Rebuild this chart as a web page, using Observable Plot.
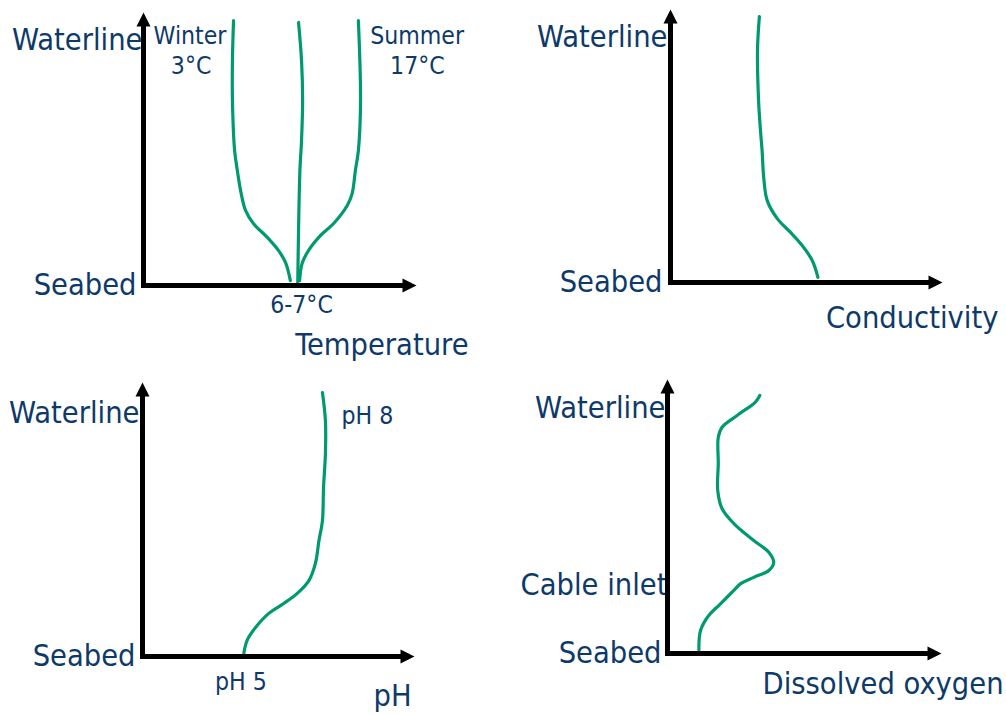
<!DOCTYPE html>
<html>
<head>
<meta charset="utf-8">
<script src="https://cdn.jsdelivr.net/npm/d3@7"></script>
<script src="https://cdn.jsdelivr.net/npm/@observablehq/plot@0.6"></script>
<style>
html, body { margin: 0; padding: 0; background: #fff; }
#wrap { position: relative; width: 1006px; height: 715px; overflow: hidden; }
#wrap svg { position: absolute; overflow: visible; }
#wrap svg text { font-stretch: condensed; }
</style>
</head>
<body>
<div id="wrap"></div>
<script>
// ---- Data (relative units: value = % of x-axis length, depth = % of height above seabed) ----
const winterValue = [33.1, 32.7, 32.7, 33.5, 34.5, 35.7, 37.5, 40.4, 45.6, 49.6, 52.2, 54.0];
const winterDepth = [97.4, 82.7, 68.0, 49.6, 42.3, 34.9, 27.6, 22.8, 17.6, 12.9, 8.5, 1.8];
const middleValue = [57.0, 58.1, 58.5, 58.1, 57.5, 57.0, 56.7];
const middleDepth = [96.7, 82.7, 68.0, 53.3, 42.3, 20.2, 0.0];
const summerValue = [79.0, 79.8, 79.0, 77.9, 76.7, 74.9, 69.9, 65.1, 60.7, 58.3, 57.4];
const summerDepth = [97.4, 68.0, 49.6, 42.3, 33.8, 29.4, 22.8, 18.4, 12.9, 8.1, 1.8];

const condValue = [32.8, 32.1, 32.5, 33.2, 33.8, 34.4, 35.7, 39.4, 44.3, 48.6, 52.3, 54.4];
const condDepth = [97.8, 85.3, 66.9, 55.9, 48.5, 38.6, 30.1, 23.5, 18.4, 13.6, 8.1, 1.9];

const phValue = [66.4, 67.5, 67.5, 66.8, 66.4, 65.1, 63.8, 61.4, 57.1, 52.1, 46.6, 41.7, 38.6, 37.4];
const phDepth = [96.7, 86.4, 74.4, 61.9, 49.8, 42.4, 34.1, 27.8, 23.1, 19.4, 15.8, 10.6, 5.9, 1.2];

const doValue = [33.8, 32.2, 25.5, 20.0, 18.6, 18.6, 18.4, 20.0, 24.3, 31.6, 37.1, 38.9, 37.1, 31.6, 26.7, 24.3, 19.4, 15.1, 12.1, 11.5];
const doDepth = [94.5, 92.1, 87.2, 82.9, 79.2, 69.6, 59.7, 53.0, 47.6, 41.4, 37.1, 33.4, 30.4, 27.9, 25.5, 23.1, 18.2, 13.9, 8.4, 1.4];

// depth tick labels
const depthLabels = ["Waterline", "Seabed"];
const depthTicks = [90, 0];
const doDepthLabels = ["Waterline", "Cable inlet", "Seabed"];
const doDepthTicks = [90, 25, 0];

// value tick labels
const tempTickLabel = ["6-7°C"];
const tempTickValue = [58.1];
const phTickLabel = ["pH 5"];
const phTickValue = [36.3];

// annotations and axis titles
const tempNotes = ["Winter", "3°C", "Summer", "17°C"];
const phNotes = ["pH 8"];
const titles = ["Temperature", "Conductivity", "pH", "Dissolved oxygen"];

// ---- Rendering ----
const GREEN = "#009970";
const BLUE = "#0e3a6a";
const FONT = '"DejaVu Sans Condensed", "DejaVu Sans", sans-serif';
const BIG = 30.5, SMALL = 24.6;

const toRows = (xs, ys) => xs.map((x, i) => ({x, y: ys[i]}));
const headSymbol = {draw(ctx) { ctx.moveTo(0, -1); ctx.lineTo(7, 13); ctx.lineTo(-7, 13); ctx.closePath(); }};

function panel(cfg) {
  const axes = [
    {x1: 0, y1: 0, x2: 0, y2: 100, r: 0},
    {x1: 0, y1: 0, x2: 100, y2: 0, r: 90}
  ];
  const marks = [];
  for (const s of cfg.series) {
    marks.push(Plot.line(s, {x: "x", y: "y", stroke: GREEN, strokeWidth: 3.2, curve: "catmull-rom"}));
  }
  cfg.yTicks.forEach((t) => {
    marks.push(Plot.axisY({
      ticks: [t.v], tickFormat: () => t.label, tickSize: 0, tickPadding: t.pad,
      fontSize: BIG, fill: BLUE, label: null
    }));
  });
  if (cfg.xTicks) {
    cfg.xTicks.forEach((t) => {
      marks.push(Plot.axisX({
        ticks: [t.v], tickFormat: () => t.label, tickSize: 0, tickPadding: t.pad,
        fontSize: SMALL, fill: BLUE, label: null
      }));
    });
  }
  cfg.notes.forEach((n) => {
    marks.push(Plot.text([n], {x: "x", y: "y", text: "t", fontSize: n.size, fill: BLUE, textAnchor: n.anchor || "middle"}));
  });
  marks.push(Plot.arrow(axes, {
    x1: "x1", y1: "y1", x2: "x2", y2: "y2", headLength: 0, insetEnd: 10,
    stroke: "black", strokeWidth: 5, strokeLinecap: "square"
  }));
  marks.push(Plot.dot(axes, {x: "x2", y: "y2", symbol: headSymbol, rotate: "r", fill: "black", stroke: "none"}));

  const svg = Plot.plot({
    width: cfg.width, height: cfg.height,
    marginLeft: cfg.mL, marginRight: cfg.mR, marginTop: cfg.mT, marginBottom: cfg.mB,
    x: {domain: [0, 100], axis: cfg.xTicks ? undefined : null},
    y: {domain: [0, 100]},
    style: {fontFamily: FONT, color: BLUE, background: "transparent", overflow: "visible"},
    marks
  });
  svg.style.left = cfg.left + "px";
  svg.style.top = cfg.top + "px";
  document.getElementById("wrap").appendChild(svg);
}

// Panel 1: Temperature
panel({
  left: 0, top: 0, width: 503, height: 360, mL: 143, mR: 88, mT: 13, mB: 75,
  series: [toRows(winterValue, winterDepth), toRows(middleValue, middleDepth), toRows(summerValue, summerDepth)],
  yTicks: [{v: depthTicks[0], label: depthLabels[0], pad: 1}, {v: depthTicks[1], label: depthLabels[1], pad: 7}],
  xTicks: [{v: tempTickValue[0], label: tempTickLabel[0], pad: 10.5}],
  notes: [
    {x: 17.1, y: 91.5, t: tempNotes[0], size: SMALL},
    {x: 17.5, y: 80.8, t: tempNotes[1], size: SMALL},
    {x: 100.6, y: 91.5, t: tempNotes[2], size: SMALL},
    {x: 100.7, y: 80.8, t: tempNotes[3], size: SMALL},
    {x: 119.5, y: -21.8, t: titles[0], size: BIG, anchor: "end"}
  ]
});

// Panel 2: Conductivity
panel({
  left: 503, top: 0, width: 503, height: 360, mL: 167, mR: 65, mT: 10, mB: 78,
  series: [toRows(condValue, condDepth)],
  yTicks: [{v: depthTicks[0], label: depthLabels[0], pad: 3}, {v: depthTicks[1], label: depthLabels[1], pad: 8}],
  xTicks: null,
  notes: [
    {x: 121.0, y: -13.3, t: titles[1], size: BIG, anchor: "end"}
  ]
});

// Panel 3: pH
panel({
  left: 0, top: 360, width: 503, height: 355, mL: 142, mR: 90, mT: 23, mB: 59,
  series: [toRows(phValue, phDepth)],
  yTicks: [{v: 89.1, label: depthLabels[0], pad: 3}, {v: depthTicks[1], label: depthLabels[1], pad: 7}],
  xTicks: [{v: phTickValue[0], label: phTickLabel[0], pad: 16.5}],
  notes: [
    {x: 83.0, y: 88.1, t: phNotes[0], size: SMALL},
    {x: 99.3, y: -14.7, t: titles[2], size: BIG, anchor: "end"}
  ]
});

// Panel 4: Dissolved oxygen
panel({
  left: 503, top: 360, width: 503, height: 355, mL: 164, mR: 66, mT: 20, mB: 62,
  series: [toRows(doValue, doDepth)],
  yTicks: [
    {v: doDepthTicks[0], label: doDepthLabels[0], pad: 2},
    {v: doDepthTicks[1], label: doDepthLabels[1], pad: 0},
    {v: doDepthTicks[2], label: doDepthLabels[2], pad: 6}
  ],
  xTicks: null,
  notes: [
    {x: 123.1, y: -11.1, t: titles[3], size: BIG, anchor: "end"}
  ]
});
</script>
</body>
</html>
